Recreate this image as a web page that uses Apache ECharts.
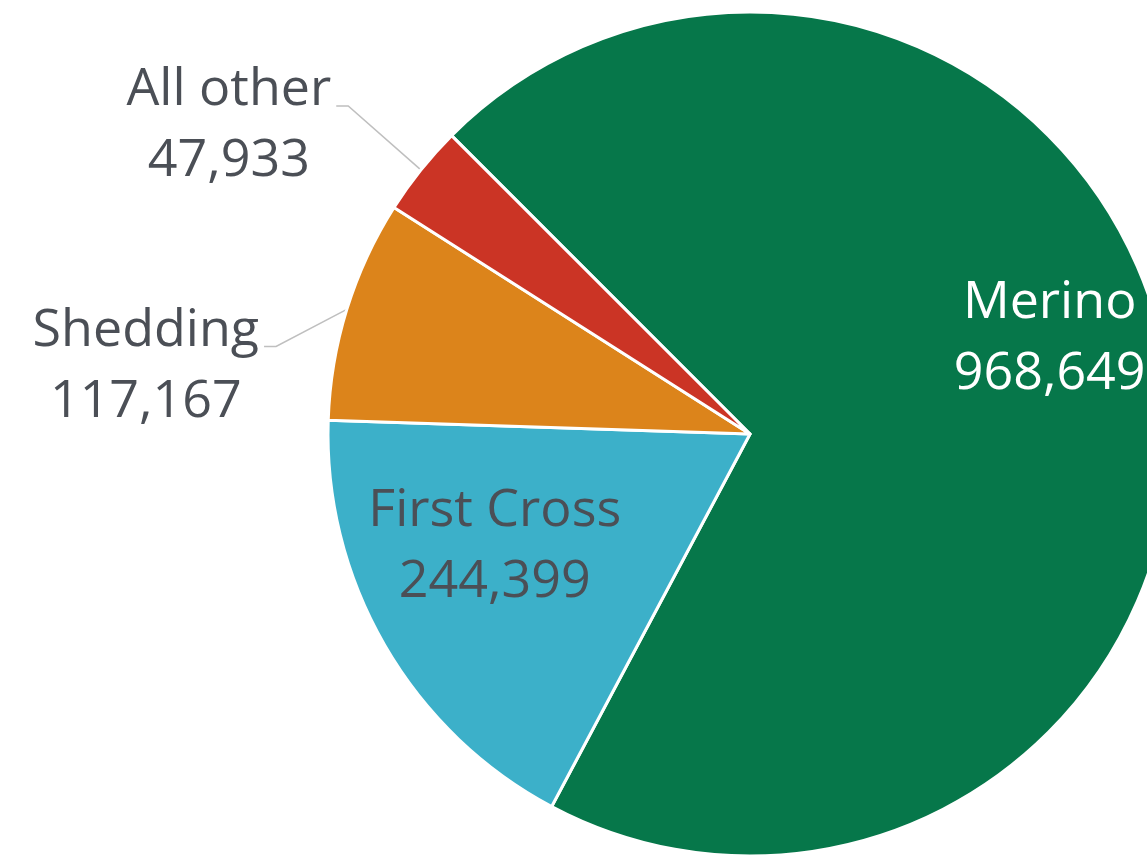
<!DOCTYPE html>
<html>
<head>
<meta charset="utf-8">
<script src="https://cdn.jsdelivr.net/npm/echarts@6/dist/echarts.min.js"></script>
<style>
  html, body { margin: 0; padding: 0; background: #ffffff; }
  #chart { width: 1147px; height: 855px; }
</style>
</head>
<body>
<div id="chart"></div>
<script>
// Sheep numbers by breed
const breeds = ['Merino', 'First Cross', 'Shedding', 'All other'];
const sheepCounts = [968649, 244399, 117167, 47933];
const sliceColors = ['#06774a', '#3cb0c9', '#dc841b', '#cb3425'];
const labelColors = ['#ffffff', '#4b4f56', '#4b4f56', '#4b4f56'];
const labelOutside = [false, false, true, true];
// Label nudges: inside labels move from the slice centroid,
// outside labels are placed relative to where the leader meets the slice edge.
const labelShift = [[88, -64], [-70, 6], [-201, 57], [-192, -44]];

const chart = echarts.init(document.getElementById('chart'));

const pieData = breeds.map((name, i) => ({
  name: name,
  value: sheepCounts[i],
  itemStyle: { color: sliceColors[i] },
  label: {
    position: labelOutside[i] ? 'outside' : 'inside',
    color: labelColors[i]
  },
  labelLine: { show: labelOutside[i] }
}));

chart.setOption({
  animation: false,
  backgroundColor: '#ffffff',
  series: [{
    type: 'pie',
    center: [750, 434],
    radius: 422,
    startAngle: 135,
    clockwise: true,
    avoidLabelOverlap: false,
    itemStyle: { borderColor: '#ffffff', borderWidth: 3 },
    label: {
      show: true,
      fontFamily: 'Open Sans',
      fontSize: 52,
      lineHeight: 71,
      formatter: p => p.name + '\n' + p.value.toLocaleString('en-US')
    },
    labelLine: {
      length: 60,
      length2: 12,
      lineStyle: { color: '#bfbfbf', width: 1.5 }
    },
    labelLayout: function (params) {
      const i = params.dataIndex;
      const s = labelShift[i];
      const r = params.labelRect;
      const pts = params.labelLinePoints;
      let cx, cy;
      if (labelOutside[i] && pts) {
        cx = pts[0][0] + s[0];
        cy = pts[0][1] + s[1];
      } else {
        cx = r.x + r.width / 2 + s[0];
        cy = r.y + r.height / 2 + s[1];
      }
      const out = { x: cx, y: cy, align: 'center', verticalAlign: 'middle' };
      if (labelOutside[i] && pts) {
        const ex = cx + r.width / 2 + 5;
        const ey = cy - 20;
        out.labelLinePoints = [pts[0], [ex + 12, ey], [ex, ey]];
      }
      return out;
    },
    data: pieData
  }]
});
</script>
</body>
</html>
